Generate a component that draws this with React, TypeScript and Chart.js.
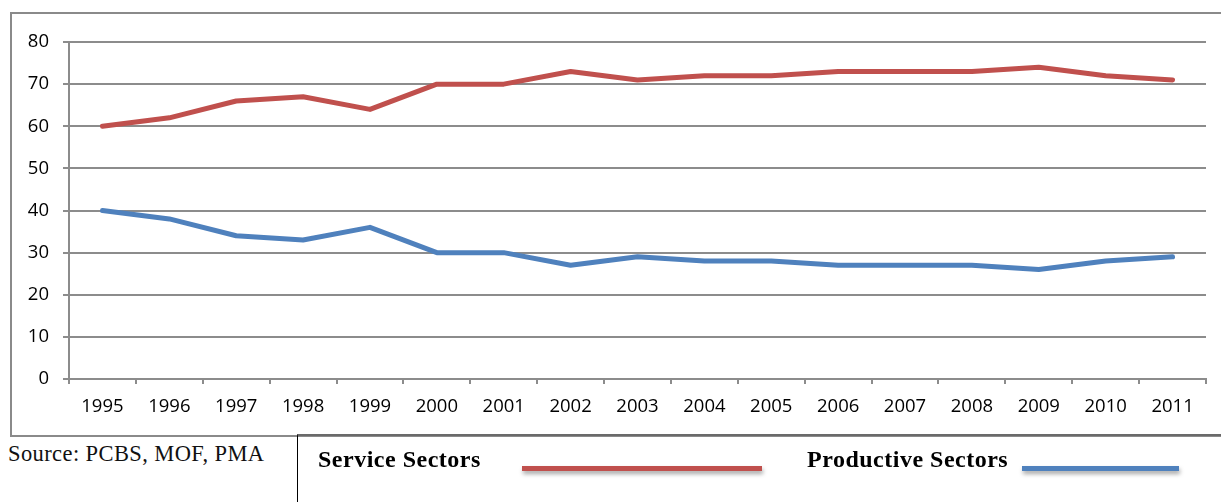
import React, { useEffect, useRef } from "react";
import { Chart, registerables } from "chart.js";

Chart.register(...registerables);

const years = ["1995","1996","1997","1998","1999","2000","2001","2002","2003","2004","2005","2006","2007","2008","2009","2010","2011"];
const serviceSectors = [60,62,66,67,64,70,70,73,71,72,72,73,73,73,74,72,71];
const productiveSectors = [40,38,34,33,36,30,30,27,29,28,28,27,27,27,26,28,29];
const yTicks = [0,10,20,30,40,50,60,70,80];

const RED = "#C0504D";
const BLUE = "#4F81BD";

export default function App() {
  const ref = useRef<HTMLCanvasElement | null>(null);
  useEffect(() => {
    if (!ref.current) return;
    const chart = new Chart(ref.current, {
      type: "line",
      data: {
        labels: years,
        datasets: [
          { label: "Service Sectors", data: serviceSectors, borderColor: RED, backgroundColor: RED, borderWidth: 5, pointRadius: 0, tension: 0, borderCapStyle: "round", borderJoinStyle: "round" },
          { label: "Productive Sectors", data: productiveSectors, borderColor: BLUE, backgroundColor: BLUE, borderWidth: 5, pointRadius: 0, tension: 0, borderCapStyle: "round", borderJoinStyle: "round" },
        ],
      },
      options: {
        animation: false,
        responsive: false,
        maintainAspectRatio: false,
        layout: { padding: { left: 0, right: 15, top: 42, bottom: 0 } },
        plugins: { legend: { display: false }, tooltip: { enabled: false } },
        scales: {
          x: {
            offset: true,
            grid: { display: true, drawOnChartArea: false, drawTicks: true, tickLength: 5, color: "#8c8c8c", lineWidth: 2, offset: true },
            border: { color: "#8c8c8c", width: 2 },
            ticks: { color: "#000", font: { family: "'Open Sans'", size: 18.5 }, padding: 12, maxRotation: 0, autoSkip: false },
            afterFit: (s: any) => { s.height = 61; },
          },
          y: {
            min: 0,
            max: 80,
            afterBuildTicks: (s: any) => { s.ticks = yTicks.map((v) => ({ value: v })); },
            grid: { color: "#8c8c8c", lineWidth: 2, tickLength: 6, drawTicks: true },
            border: { color: "#8c8c8c", width: 2 },
            ticks: { color: "#000", font: { family: "'Open Sans'", size: 18.5 }, padding: 14 },
            afterFit: (s: any) => { s.width = 69; },
          },
        },
      },
    });
    return () => chart.destroy();
  }, []);

  return (
    <div style={{ position: "fixed", left: 0, top: 0, width: 1221, height: 502, background: "#fff", overflow: "hidden" }}>
      <div style={{ position: "absolute", left: 10, top: 12, width: 1240, height: 421, border: "2px solid #8a8a8a" }} />
      <canvas ref={ref} width={1221} height={440} style={{ position: "absolute", left: 0, top: 0, width: 1221, height: 440 }} />
      <div style={{ position: "absolute", left: 8, top: 441, fontFamily: "'Liberation Serif', serif", fontSize: 22.5, letterSpacing: 0.4, color: "#111", whiteSpace: "nowrap" }}>
        Source: PCBS, MOF, PMA
      </div>
      <div style={{ position: "absolute", left: 297, top: 434, width: 1000, height: 100, borderLeft: "1px solid #000", borderTop: "2px solid #6a6a6a" }} />
      <div style={{ position: "absolute", left: 318, top: 446, fontFamily: "'Liberation Serif', serif", fontWeight: "bold", fontSize: 24, letterSpacing: 0.5, color: "#000", whiteSpace: "nowrap" }}>
        Service Sectors
      </div>
      <div style={{ position: "absolute", left: 522, top: 466, width: 240, height: 5, background: RED, boxShadow: "1px 3px 4px rgba(0,0,0,0.35)" }} />
      <div style={{ position: "absolute", left: 807, top: 446, fontFamily: "'Liberation Serif', serif", fontWeight: "bold", fontSize: 24, letterSpacing: 0.5, color: "#000", whiteSpace: "nowrap" }}>
        Productive Sectors
      </div>
      <div style={{ position: "absolute", left: 1022, top: 466, width: 157, height: 5, background: BLUE, boxShadow: "1px 3px 4px rgba(0,0,0,0.35)" }} />
    </div>
  );
}
